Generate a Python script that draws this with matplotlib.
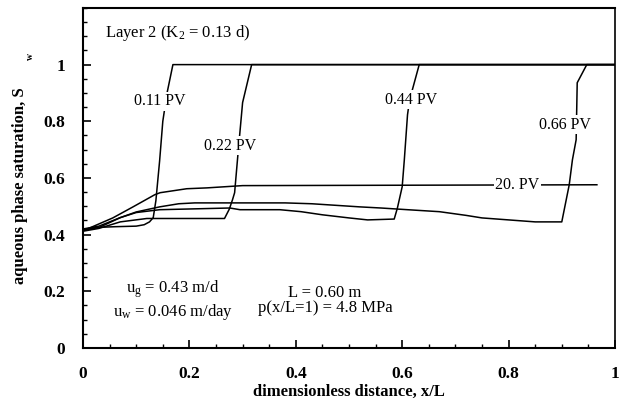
import matplotlib
matplotlib.use("Agg")
import matplotlib.pyplot as plt
from matplotlib.ticker import FixedLocator, MultipleLocator

plt.rcParams['font.family'] = ['Liberation Serif', 'DejaVu Serif']
plt.rcParams['mathtext.fontset'] = 'custom'
plt.rcParams['mathtext.rm'] = 'Liberation Serif'
plt.rcParams['mathtext.it'] = 'Liberation Serif'
plt.rcParams['mathtext.bf'] = 'Liberation Serif:bold'

# saturation profiles
x_011 = [0, 0.02, 0.06, 0.10, 0.115, 0.125, 0.132, 0.137, 0.144, 0.150, 0.158, 0.169, 1.0]
s_011 = [0.415, 0.425, 0.428, 0.430, 0.435, 0.445, 0.460, 0.520, 0.660, 0.800, 0.900, 1.0, 1.0]

x_022 = [0, 0.03, 0.07, 0.12, 0.20, 0.266, 0.275, 0.281, 0.285, 0.292, 0.300, 0.317, 1.0]
s_022 = [0.412, 0.422, 0.445, 0.457, 0.457, 0.457, 0.490, 0.523, 0.548, 0.700, 0.866, 1.0, 1.0]

x_044 = [0, 0.03, 0.07, 0.10, 0.144, 0.276, 0.295, 0.37, 0.41, 0.45, 0.50, 0.535, 0.585,
         0.591, 0.600, 0.604, 0.610, 0.614, 0.632, 1.0]
s_044 = [0.42, 0.43, 0.46, 0.478, 0.488, 0.494, 0.488, 0.488, 0.481, 0.470, 0.459, 0.452, 0.455,
         0.494, 0.569, 0.664, 0.823, 0.876, 1.0, 1.0]

x_066 = [0, 0.03, 0.07, 0.10, 0.144, 0.18, 0.21, 0.38, 0.43, 0.52, 0.56, 0.61, 0.67, 0.72,
         0.75, 0.85, 0.90, 0.914, 0.920, 0.927, 0.929, 0.947, 1.0]
s_066 = [0.415, 0.425, 0.46, 0.48, 0.498, 0.509, 0.512, 0.512, 0.509, 0.498, 0.494, 0.488, 0.481, 0.468,
         0.459, 0.445, 0.445, 0.576, 0.664, 0.735, 0.936, 1.0, 1.0]

x_20 = [0, 0.013, 0.056, 0.094, 0.115, 0.135, 0.145, 0.195, 0.233, 0.30, 0.966]
s_20 = [0.415, 0.424, 0.459, 0.498, 0.520, 0.541, 0.548, 0.562, 0.565, 0.573, 0.576]

# curve labels: text, x, y
pv_labels = [("0.11 PV", 0.145, 0.871),
             ("0.22 PV", 0.276, 0.714),
             ("0.44 PV", 0.616, 0.876),
             ("0.66 PV", 0.906, 0.788),
             ("20. PV", 0.816, 0.575)]

tick_vals = [0, 0.2, 0.4, 0.6, 0.8, 1.0]
tick_text = ['0', '0.2', '0.4', '0.6', '0.8', '1']

fig = plt.figure(figsize=(6.26, 4.01), dpi=100)
ax = fig.add_axes([0.1326, 0.1322, 0.8498, 0.848])

for xs, ss in [(x_011, s_011), (x_022, s_022), (x_044, s_044), (x_066, s_066), (x_20, s_20)]:
    ax.plot(xs, ss, color='black', linewidth=1.1)

for txt, tx, ty in pv_labels:
    ax.text(tx, ty, txt, fontsize=11.5, ha='center', va='center',
            bbox=dict(facecolor='white', edgecolor='none', pad=1.0))

ax.text(0.041, 1.099, r'Layer 2 (K$_2$ = 0.13 d)', fontsize=12, ha='left', va='baseline')
ax.text(0.169, 0.194, r'u$_g$ = 0.43 m/d', fontsize=12, ha='center', va='baseline')
ax.text(0.169, 0.112, r'u$_w$ = 0.046 m/day', fontsize=12, ha='center', va='baseline')
ax.text(0.455, 0.180, 'L = 0.60 m', fontsize=12, ha='center', va='baseline')
ax.text(0.455, 0.127, 'p(x/L=1) = 4.8 MPa', fontsize=12, ha='center', va='baseline')

ax.set_xlim(0, 1)
ax.set_ylim(0, 1.2)
ax.xaxis.set_major_locator(FixedLocator(tick_vals))
ax.xaxis.set_minor_locator(MultipleLocator(0.05))
ax.yaxis.set_major_locator(FixedLocator(tick_vals))
ax.yaxis.set_minor_locator(MultipleLocator(0.05))
ax.set_xticklabels(tick_text)
ax.set_yticklabels(tick_text)

ax.tick_params(which='both', direction='in', top=False, right=False)
ax.tick_params(which='major', length=6, width=1.2, labelsize=12.5, pad=13)
ax.tick_params(which='minor', length=3, width=1.0)
for lab in ax.get_xticklabels() + ax.get_yticklabels():
    lab.set_fontweight('bold')

for side in ['left', 'bottom', 'top']:
    ax.spines[side].set_linewidth(1.5)
ax.spines['right'].set_linewidth(1.2)

ax.set_xlabel('dimensionless distance, x/L', fontsize=12, fontweight='bold', labelpad=1)
ax.set_ylabel('aqueous phase saturation, S', fontsize=12, fontweight='bold')
ax.yaxis.set_label_coords(-0.103, 0.476)
ax.text(-0.099, 0.856, 'w', fontsize=7, fontweight='bold', rotation=90,
        ha='center', va='center', transform=ax.transAxes, clip_on=False)

fig.savefig('out.png', dpi=100)
